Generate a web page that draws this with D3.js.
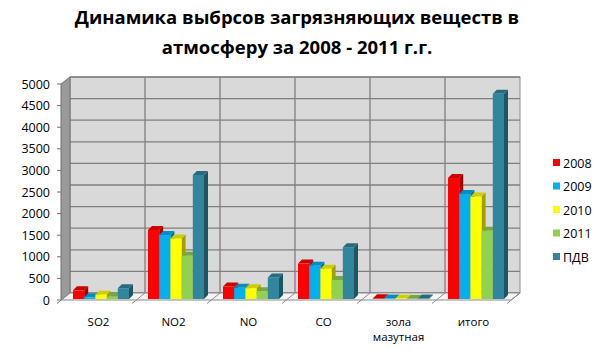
<!DOCTYPE html>
<html><head><meta charset="utf-8">
<script src="https://cdn.jsdelivr.net/npm/d3@7/dist/d3.min.js"></script>
<style>body{margin:0;background:#fff}svg{display:block}</style>
</head><body>
<svg id="c" width="600" height="350"></svg>
<script>
const categories = ["SO2","NO2","NO","CO","зола мазутная","итого"];
const series = ["2008","2009","2010","2011","ПДВ"];
const v2008 = [200,1600,290,820,15,2800];
const v2009 = [40,1480,260,770,10,2430];
const v2010 = [100,1400,250,700,12,2370];
const v2011 = [50,1000,180,440,8,1580];
const vPDV  = [250,2870,500,1200,10,4750];
const yTicks = [0,500,1000,1500,2000,2500,3000,3500,4000,4500,5000];
const colors = ["#FF0000","#00B0F0","#FFFF00","#92D050","#31859C"];
const values = [v2008,v2009,v2010,v2011,vPDV];
const titleLines = ["Динамика выбрсов загрязняющих веществ в","атмосферу за 2008 - 2011 г.г."];

const svg = d3.select("#c");
const font = "'Open Sans', 'Liberation Sans', sans-serif";
const DX = 9, DY = -7;
const y = d3.scaleLinear().domain([0,5000]).range([300,84]);
const x = d3.scaleBand().domain(categories).range([61,511]);
const inner = d3.scaleBand().domain(series).range([0,56]);

// title
svg.append("g").selectAll("text").data(titleLines).join("text")
  .attr("x",297).attr("y",(d,i)=>24+i*30).attr("text-anchor","middle")
  .attr("font-family",font).attr("font-weight","bold").attr("font-size",18.5)
  .attr("fill","#000").text(d=>d);

// back wall
const x0 = x.range()[0], x1 = x.range()[1];
svg.append("rect").attr("x",x0+DX).attr("y",y(5000)+DY).attr("width",x1-x0).attr("height",y(0)-y(5000))
  .attr("fill","#D9D9D9").attr("stroke","#8c8c8c").attr("stroke-width",1);
// gridlines
svg.append("g").selectAll("line").data(yTicks).join("line")
  .attr("x1",x0+DX).attr("x2",x1+DX).attr("y1",d=>y(d)+DY).attr("y2",d=>y(d)+DY)
  .attr("stroke","#7f7f7f").attr("stroke-width",1.3);
// vertical category dividers on back wall
svg.append("g").selectAll("line").data(categories.slice(1)).join("line")
  .attr("x1",d=>x(d)+DX).attr("x2",d=>x(d)+DX).attr("y1",y(5000)+DY).attr("y2",y(0)+DY)
  .attr("stroke","#7f7f7f").attr("stroke-width",1.3);
// left side wall
svg.append("polygon").attr("points",[[x0,y(5000)],[x0+DX,y(5000)+DY],[x0+DX,y(0)+DY],[x0,y(0)]].join(" "))
  .attr("fill","#9a9a9a").attr("stroke","#6f6f6f").attr("stroke-width",1);
// floor
svg.append("polygon").attr("points",[[x0,y(0)],[x1,y(0)],[x1+DX,y(0)+DY],[x0+DX,y(0)+DY]].join(" "))
  .attr("fill","#f4f4f4").attr("stroke","#8c8c8c").attr("stroke-width",1);
// floor diagonal ticks
svg.append("g").selectAll("line").data(categories.map(c=>x(c)).concat([x1])).join("line")
  .attr("x1",d=>d-4).attr("y1",y(0)+3.5).attr("x2",d=>d+DX).attr("y2",y(0)+DY)
  .attr("stroke","#8c8c8c").attr("stroke-width",1);

// y axis ticks & labels
svg.append("g").selectAll("line").data(yTicks).join("line")
  .attr("x1",x0-4).attr("x2",x0).attr("y1",d=>y(d)).attr("y2",d=>y(d)).attr("stroke","#6f6f6f");
svg.append("g").selectAll("text").data(yTicks).join("text")
  .attr("x",50).attr("y",d=>y(d)+4.5).attr("text-anchor","end")
  .attr("font-family",font).attr("font-size",12.5).attr("fill","#000").text(d=>d);

// bars
const bw = inner.bandwidth(), bdx = 4, bdy = -4, off = 11, fdx = 1, fdy = -1;
const barsG = svg.append("g");
categories.forEach((c,ci)=>{
  series.forEach((s,si)=>{
    const v = values[si][ci];
    const bx = x(c)+off+inner(s)+fdx;
    const by = y(v)+fdy, bb = y(0)+fdy;
    const col = d3.color(colors[si]);
    barsG.append("polygon").attr("points",[[bx+bw,by],[bx+bw+bdx,by+bdy],[bx+bw+bdx,bb+bdy],[bx+bw,bb]].join(" "))
      .attr("fill",col.darker(1.3));
    barsG.append("polygon").attr("points",[[bx,by],[bx+bdx,by+bdy],[bx+bw+bdx,by+bdy],[bx+bw,by]].join(" "))
      .attr("fill",col.darker(0.6));
    barsG.append("rect").attr("x",bx).attr("y",by).attr("width",bw).attr("height",Math.max(0,bb-by))
      .attr("fill",colors[si]);
  });
});

// category labels (each word on its own line)
const labLines = [];
categories.forEach(c=>c.split(" ").forEach((p,i)=>labLines.push({c,p,i})));
svg.append("g").selectAll("text").data(labLines).join("text")
  .attr("x",d=>x(d.c)+x.bandwidth()/2).attr("y",d=>326+d.i*15).attr("text-anchor","middle")
  .attr("font-family",font).attr("font-size",11.5).attr("fill","#000").text(d=>d.p);

// legend
const lg = svg.append("g").selectAll("g").data(series).join("g")
  .attr("transform",(d,i)=>`translate(553,${163+i*23.5})`);
lg.append("rect").attr("x",0).attr("y",-4).attr("width",7).attr("height",7).attr("fill",(d,i)=>colors[i]);
lg.append("text").attr("x",10).attr("y",4.5).attr("font-family",font).attr("font-size",12.5).attr("fill","#000").text(d=>d);
</script>
</body></html>
